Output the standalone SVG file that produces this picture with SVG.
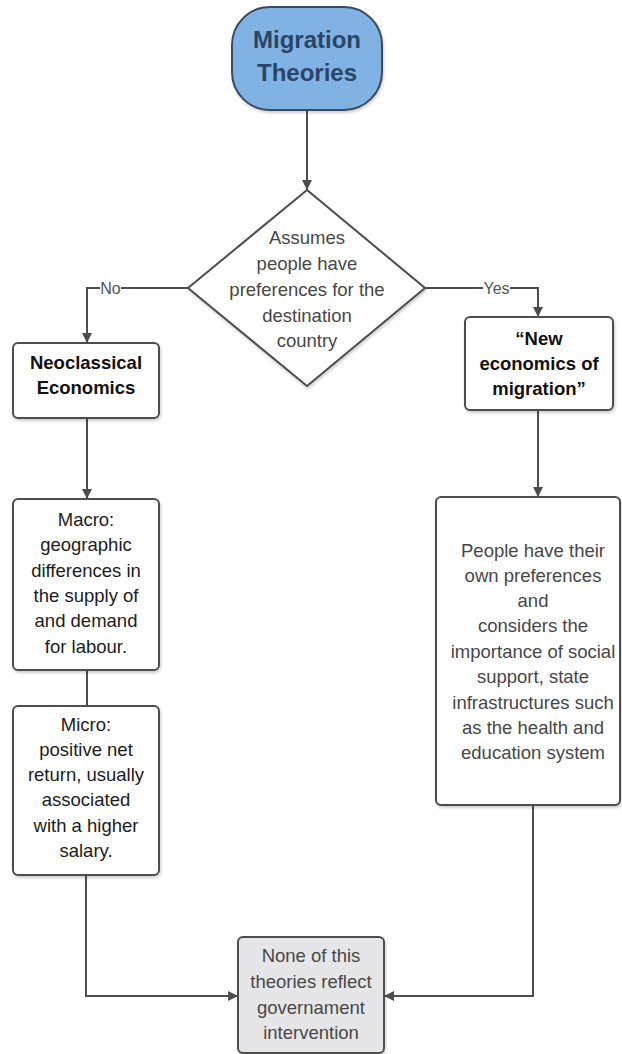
<svg xmlns="http://www.w3.org/2000/svg" width="622" height="1054" viewBox="0 0 622 1054">
<defs>
<marker id="arr" viewBox="0 0 10 10" refX="10" refY="5" markerWidth="10" markerHeight="10" markerUnits="userSpaceOnUse" orient="auto">
<path d="M0,0 L10,5 L0,10 z" fill="#4d4d4d"/>
</marker>
<filter id="sh" x="-10%" y="-10%" width="130%" height="130%">
<feDropShadow dx="1" dy="2" stdDeviation="1.5" flood-color="#000" flood-opacity="0.2"/>
</filter>
<style>
.box{fill:#fff;stroke:#4d4d4d;stroke-width:2;filter:url(#sh)}
.ln{fill:none;stroke:#4d4d4d;stroke-width:2}
.t{font-family:"Liberation Sans",Arial,sans-serif;font-size:18.5px;text-anchor:middle}
.b{font-weight:bold;fill:#111}
.g{fill:#474747}
.k{fill:#1c1c1c}
.lbl{font-family:"Liberation Sans",Arial,sans-serif;font-size:16px;fill:#555;text-anchor:middle}
</style>
</defs>
<rect width="622" height="1054" fill="#fff"/>

<g id="connectors">
<line class="ln" x1="307" y1="110" x2="307" y2="190" marker-end="url(#arr)"/>
<polyline class="ln" points="188,288 87,288 87,343" marker-end="url(#arr)"/>
<rect x="100" y="279" width="21" height="18" fill="#fff"/>
<text class="lbl" x="110.5" y="294">No</text>
<polyline class="ln" points="425,288 538,288 538,317" marker-end="url(#arr)"/>
<rect x="483" y="279" width="27" height="18" fill="#fff"/>
<text class="lbl" x="496.5" y="294">Yes</text>
<line class="ln" x1="87" y1="418" x2="87" y2="499" marker-end="url(#arr)"/>
<line class="ln" x1="538" y1="410" x2="538" y2="497" marker-end="url(#arr)"/>
<line class="ln" x1="87" y1="670" x2="87" y2="706"/>
<polyline class="ln" points="86,875 86,996 238,996" marker-end="url(#arr)"/>
<polyline class="ln" points="533,805 533,996 384,996" marker-end="url(#arr)"/>
</g>

<g id="migration-theories">
<rect x="232" y="7" width="150" height="103" rx="38" fill="#80b3e4" stroke="#3b4a5c" stroke-width="2" filter="url(#sh)"/>
<text class="t" x="307" y="48" font-weight="bold" fill="#2b4566" style="font-size:24px">Migration</text>
<text class="t" x="307" y="81" font-weight="bold" fill="#2b4566" style="font-size:24px">Theories</text>
</g>

<g id="decision">
<polygon points="307,190 425,288 307,386 188,288" fill="#fff" stroke="#4d4d4d" stroke-width="2" filter="url(#sh)"/>
<text class="t g" x="307" y="243.5">Assumes</text>
<text class="t g" x="307" y="269.5">people have</text>
<text class="t g" x="307" y="296">preferences for the</text>
<text class="t g" x="307" y="321.5">destination</text>
<text class="t g" x="307" y="346.5">country</text>
</g>

<g id="neoclassical">
<rect class="box" x="13" y="343" width="146" height="75" rx="5"/>
<text class="t b" x="86" y="368.5">Neoclassical</text>
<text class="t b" x="86" y="393.5">Economics</text>
</g>

<g id="new-economics">
<rect class="box" x="465" y="317" width="148" height="93" rx="5"/>
<text class="t b" x="539" y="344.5">“New</text>
<text class="t b" x="539" y="370">economics of</text>
<text class="t b" x="539" y="394.5">migration”</text>
</g>

<g id="macro">
<rect class="box" x="13" y="499" width="146" height="171" rx="5"/>
<text class="t k" x="86" y="525.5">Macro:</text>
<text class="t k" x="86" y="551">geographic</text>
<text class="t k" x="86" y="576.5">differences in</text>
<text class="t k" x="86" y="602">the supply of</text>
<text class="t k" x="86" y="627">and demand</text>
<text class="t k" x="86" y="652.5">for labour.</text>
</g>

<g id="micro">
<rect class="box" x="13" y="706" width="146" height="169" rx="5"/>
<text class="t k" x="86" y="730.5">Micro:</text>
<text class="t k" x="86" y="755.5">positive net</text>
<text class="t k" x="86" y="780.5">return, usually</text>
<text class="t k" x="86" y="806">associated</text>
<text class="t k" x="86" y="831.5">with a higher</text>
<text class="t k" x="86" y="857">salary.</text>
</g>

<g id="preferences">
<rect class="box" x="436" y="497" width="184" height="308" rx="5"/>
<text class="t g" x="533" y="556.5">People have their</text>
<text class="t g" x="533" y="581.5">own preferences</text>
<text class="t g" x="533" y="606.5">and</text>
<text class="t g" x="533" y="631.5">considers the</text>
<text class="t g" x="533" y="657.5">importance of social</text>
<text class="t g" x="533" y="683">support, state</text>
<text class="t g" x="533" y="709">infrastructures such</text>
<text class="t g" x="533" y="733.5">as the health and</text>
<text class="t g" x="533" y="759">education system</text>
</g>

<g id="conclusion">
<rect class="box" x="238" y="937" width="146" height="116" rx="5" style="fill:#e6e6e8"/>
<text class="t g" x="311" y="961.5">None of this</text>
<text class="t g" x="311" y="987.5">theories reflect</text>
<text class="t g" x="311" y="1013.5">governament</text>
<text class="t g" x="311" y="1038.5">intervention</text>
</g>
</svg>
